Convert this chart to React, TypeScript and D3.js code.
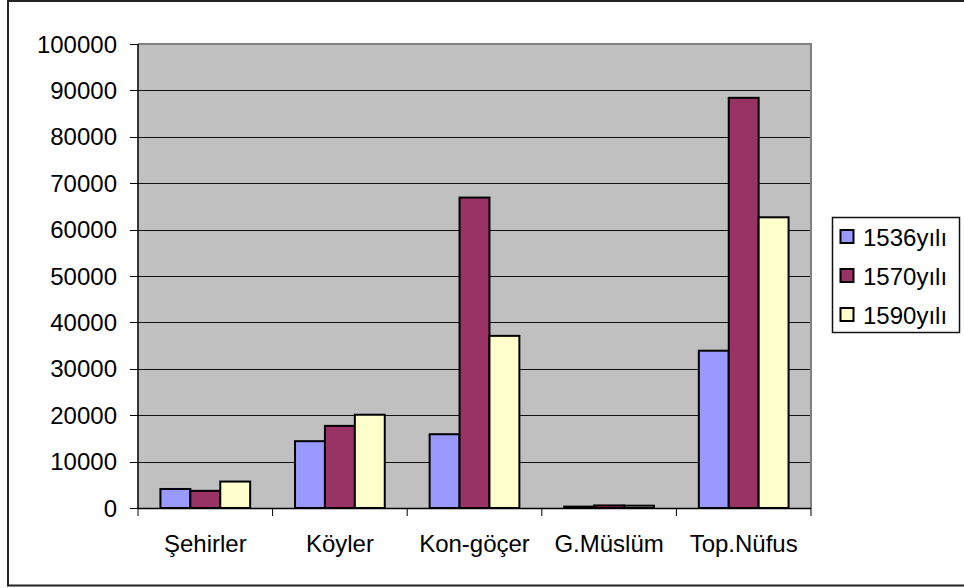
import * as d3 from "d3";
import * as React from "react";

const categories = ["Şehirler", "Köyler", "Kon-göçer", "G.Müslüm", "Top.Nüfus"];
const seriesNames = ["1536yılı", "1570yılı", "1590yılı"];
const seriesColors = ["#9999FF", "#993366", "#FFFFCC"];
const values1536 = [4100, 14400, 15900, 300, 33900];
const values1570 = [3700, 17700, 66900, 550, 88400];
const values1590 = [5700, 20100, 37100, 500, 62650];
const yTicks = [0, 10000, 20000, 30000, 40000, 50000, 60000, 70000, 80000, 90000, 100000];

const W = 964;
const H = 588;
const plot = { left: 138, right: 811, top: 44, bottom: 508 };
const font = "'Liberation Sans', Arial, sans-serif";

export default function App() {
  const series = [values1536, values1570, values1590];

  const x = d3
    .scaleBand<string>()
    .domain(categories)
    .range([plot.left, plot.right])
    .padding(0);
  const xs = d3
    .scaleBand<number>()
    .domain([0, 1, 2])
    .range([0, x.bandwidth()])
    .paddingInner(0)
    .paddingOuter(0.75);
  const y = d3.scaleLinear().domain([0, 100000]).range([plot.bottom, plot.top]);

  const boundaries = categories.map((c) => x(c) as number).concat([plot.right]);

  return (
    <svg
      width={W}
      height={H}
      style={{ position: "absolute", left: 0, top: 0, background: "#fff" }}
      fontFamily={font}
    >
      {/* outer chart border */}
      <rect x={8} y={1} width={960} height={584.5} fill="#fff" stroke="#222" strokeWidth={2} />

      {/* plot area */}
      <rect
        x={plot.left}
        y={plot.top}
        width={plot.right - plot.left}
        height={plot.bottom - plot.top}
        fill="#C0C0C0"
      />
      {yTicks
        .filter((t) => t > 0 && t < 100000)
        .map((t) => (
          <line
            key={"g" + t}
            x1={plot.left}
            x2={plot.right}
            y1={Math.round(y(t)) + 0.5}
            y2={Math.round(y(t)) + 0.5}
            stroke="#111"
            strokeWidth={1}
          />
        ))}
      <path
        d={`M${plot.left},${plot.top}H${plot.right}V${plot.bottom}`}
        fill="none"
        stroke="#808080"
        strokeWidth={2}
      />

      {/* bars */}
      {series.map((vals, si) =>
        vals.map((v, ci) => {
          const bx = (x(categories[ci]) as number) + (xs(si) as number);
          return (
            <rect
              key={"b" + si + "-" + ci}
              x={bx}
              y={y(v)}
              width={xs.bandwidth()}
              height={plot.bottom - y(v)}
              fill={seriesColors[si]}
              stroke="#000"
              strokeWidth={2}
            />
          );
        })
      )}

      {/* y axis */}
      <line x1={plot.left} x2={plot.left} y1={plot.top} y2={plot.bottom} stroke="#000" strokeWidth={1.5} />
      {yTicks.map((t) => (
        <g key={"y" + t}>
          <line
            x1={plot.left - 8}
            x2={plot.left}
            y1={Math.round(y(t)) + 0.5}
            y2={Math.round(y(t)) + 0.5}
            stroke="#000"
          />
          <text x={117} y={y(t) + 8.5} textAnchor="end" fontSize={24} fill="#000">
            {t}
          </text>
        </g>
      ))}

      {/* x axis */}
      <line x1={plot.left} x2={plot.right} y1={plot.bottom + 0.5} y2={plot.bottom + 0.5} stroke="#000" strokeWidth={1.5} />
      {boundaries.map((bx, i) => (
        <line key={"xt" + i} x1={bx} x2={bx} y1={plot.bottom} y2={plot.bottom + 8} stroke="#000" />
      ))}
      {categories.map((c) => (
        <text
          key={"xl" + c}
          x={(x(c) as number) + x.bandwidth() / 2}
          y={551.5}
          textAnchor="middle"
          fontSize={24}
          fill="#000"
        >
          {c}
        </text>
      ))}

      {/* legend */}
      <rect x={832.5} y={217.5} width={127} height={115} fill="#fff" stroke="#111" strokeWidth={1.5} />
      {seriesNames.map((n, i) => (
        <g key={"lg" + n}>
          <rect
            x={840.5}
            y={230 + i * 39}
            width={13}
            height={13}
            fill={seriesColors[i]}
            stroke="#000"
            strokeWidth={2}
          />
          <text x={863} y={245.5 + i * 39} fontSize={24} fill="#000">
            {n}
          </text>
        </g>
      ))}
    </svg>
  );
}
